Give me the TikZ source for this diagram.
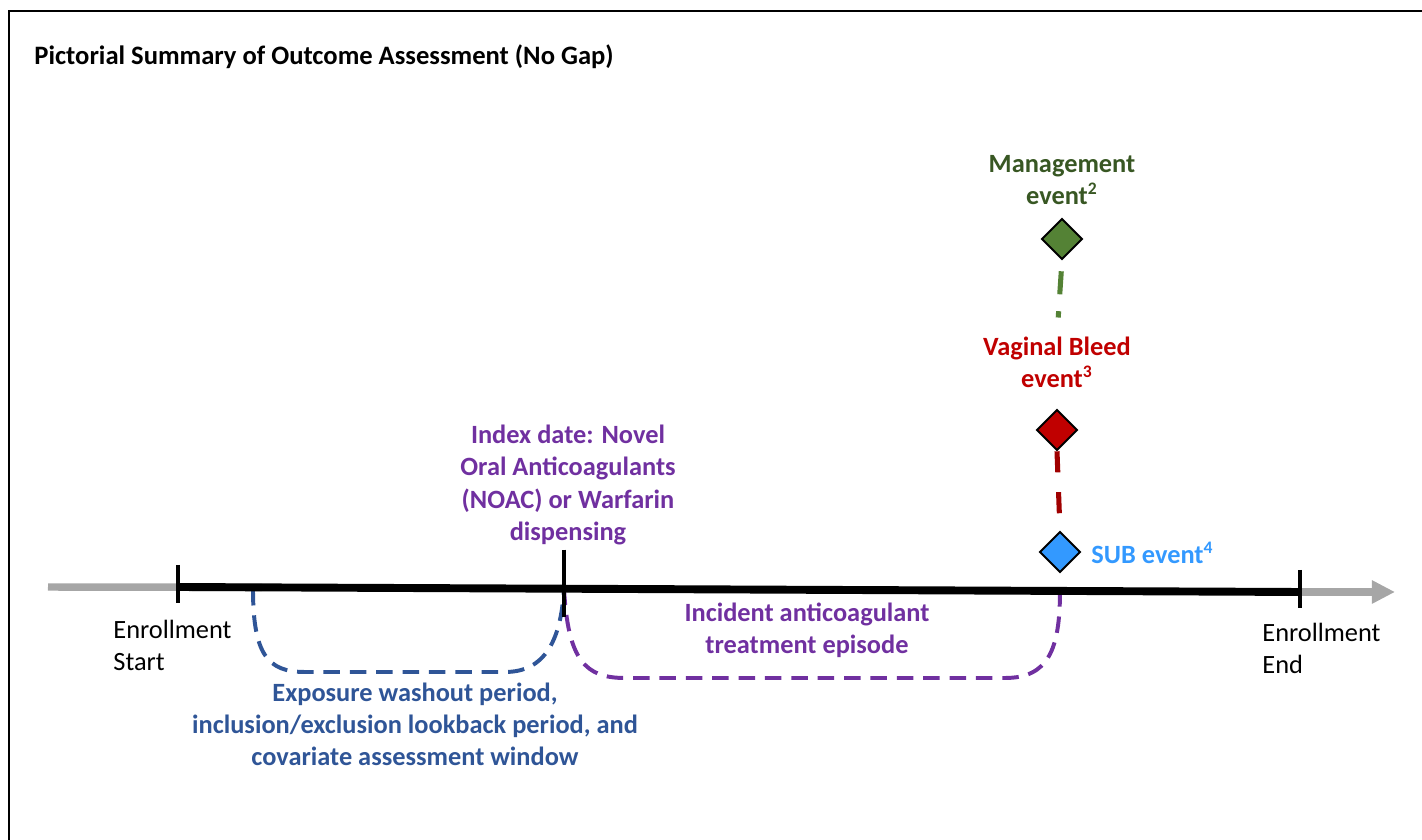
\documentclass[tikz,border=0pt]{standalone}
\usepackage{fontspec}
\setmainfont{Carlito}
\usetikzlibrary{arrows.meta,shapes.geometric}

\definecolor{washblue}{HTML}{2F5597}
\definecolor{episodepurple}{HTML}{7030A0}
\definecolor{mgmtgreen}{HTML}{548235}
\definecolor{mgmttext}{HTML}{385723}
\definecolor{bleedred}{HTML}{C00000}
\definecolor{bleeddash}{HTML}{A00000}
\definecolor{subblue}{HTML}{3399FF}
\definecolor{axisgray}{HTML}{A6A6A6}

\begin{document}
\begin{tikzpicture}[x=0.455pt,y=-0.455pt,
  lbl/.style={font=\bfseries\fontsize{12}{14.6}\selectfont,align=center,inner sep=0pt},
  plainlbl/.style={font=\fontsize{12}{14.6}\selectfont,align=left,inner sep=0pt,anchor=west},
  event/.style={diamond,draw=black,line width=0.9pt,minimum size=18.5pt,inner sep=0pt,aspect=1},
  tick/.style={line width=1.6pt},
  grayline/.style={axisgray,line width=3.4pt},
  period/.style={line width=1.8pt,dash pattern=on 7.5pt off 4.5pt}]
\useasboundingbox (0,0) rectangle (1422,840);
% frame
\draw[line width=1pt] (9,840) -- (9,11) -- (1422,11);
\node[font=\bfseries\fontsize{12.1}{14}\selectfont,anchor=base west,inner sep=0pt] (title) at (34,65) {Pictorial Summary of Outcome Assessment (No Gap)};

% timeline
\coordinate (lineL) at (48,587);
\coordinate (enrS) at (178,587);
\coordinate (grayEnd) at (262,587.4);
\coordinate (wash) at (253,589);
\coordinate (idx) at (564,588.7);
\coordinate (subT) at (1060,590.9);
\coordinate (enrE) at (1300,592);
\coordinate (lineR) at (1395,592);

\draw[grayline] (lineL) -- (grayEnd);
\draw[grayline,-{Triangle[length=10.5pt,width=10pt]}] (enrE) -- (lineR);

% periods
\draw[period,washblue] (wash) .. controls (253,655) and (268,672) .. (305,672) -- (505,672) .. controls (545,672) and (561,640) .. (idx);
\draw[period,episodepurple] (idx) .. controls (568,660) and (585,678) .. (625,678) -- (1005,678) .. controls (1048,678) and (1060,650) .. (subT);

\draw[line width=3.6pt] (enrS) -- (enrE);
\draw[tick] (enrS) ++(0,-22) -- ++(0,38);
\draw[tick] (idx) ++(0,-39) -- ++(0,67);
\draw[tick] (enrE) ++(0,-22) -- ++(0,38);

\node[plainlbl] (starttxt) at (113,645) {Enrollment\\Start};
\node[plainlbl] (endtxt) at (1262,648) {Enrollment\\End};

\node[lbl,text=episodepurple] (idxtxt) at (568,485) {Index date: Novel\\Oral Anticoagulants\\(NOAC) or Warfarin\\dispensing};
\node[lbl,text=episodepurple] (episodetxt) at (807,630) {Incident anticoagulant\\treatment episode};
\node[lbl,text=washblue] (washtxt) at (415,724) {Exposure washout period,\\inclusion/exclusion lookback period, and\\covariate assessment window};

% events
\node[lbl,text=mgmttext] (mgmttxt) at (1062,180) {Management\\event\textsuperscript{2}};
\node[event,fill=mgmtgreen] (mgmt) at (1062,239) {};
\node[lbl,text=bleedred] (bleedtxt) at (1057,362) {Vaginal Bleed\\event\textsuperscript{3}};
\node[event,fill=bleedred] (bleed) at (1057,430) {};
\node[event,fill=subblue] (sub) at (1060,552) {};
\node[lbl,text=subblue,anchor=west] (subtxt) at (1091,553) {SUB event\textsuperscript{4}};

\draw[mgmtgreen,line width=2.3pt,dash pattern=on 10.5pt off 7.7pt,shorten <=5pt,shorten >=8.5pt] (mgmt.south) -- (bleedtxt.north);
\draw[bleeddash,line width=2.3pt,dash pattern=on 9.6pt off 9pt] (bleed.south) -- (sub.north);
\end{tikzpicture}
\end{document}
